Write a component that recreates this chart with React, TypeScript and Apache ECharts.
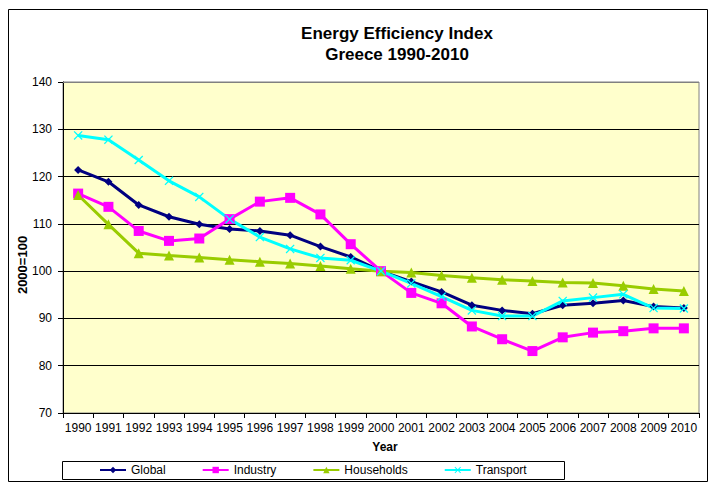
import React, { useEffect, useRef } from "react";
import * as echarts from "echarts";

const years = ["1990","1991","1992","1993","1994","1995","1996","1997","1998","1999","2000","2001","2002","2003","2004","2005","2006","2007","2008","2009","2010"];
const globalIdx = [121.4,118.9,114.0,111.5,109.9,108.9,108.5,107.6,105.2,103.0,100.0,97.8,95.6,92.8,91.7,91.0,92.8,93.2,93.8,92.5,92.2];
const industry = [116.4,113.6,108.5,106.4,106.9,111.0,114.7,115.5,112.0,105.7,100.0,95.4,93.2,88.3,85.6,83.1,86.0,87.0,87.3,87.9,87.9];
const households = [116.1,109.9,103.8,103.3,102.9,102.4,102.0,101.6,101.1,100.5,100.0,99.7,99.1,98.6,98.2,97.9,97.6,97.5,96.9,96.2,95.8];
const transport = [128.7,127.8,123.5,119.1,115.7,111.0,107.2,104.7,102.8,102.3,100.0,97.4,94.6,91.7,90.5,90.5,93.7,94.4,95.1,92.2,92.1];

const FONT = "Liberation Sans, Arial, sans-serif";
const X_SYMBOL = "path://M0,1L1,0L5,4L9,0L10,1L6,5L10,9L9,10L5,6L1,10L0,9L4,5Z";

export default function App() {
  const ref = useRef<HTMLDivElement>(null);
  useEffect(() => {
    document.body.style.margin = "0";
    const chart = echarts.init(ref.current!, null, { renderer: "svg" });
    const mk = (name: string, data: number[], color: string, symbol: string, size: number) => ({
      name,
      type: "line",
      data,
      symbol,
      symbolSize: size,
      showSymbol: true,
      lineStyle: { color, width: 3 },
      itemStyle: { color },
      emphasis: { disabled: true },
    });
    chart.setOption({
      animation: false,
      backgroundColor: "#ffffff",
      textStyle: { fontFamily: FONT },
      title: {
        text: "Energy Efficiency Index\nGreece 1990-2010",
        left: 392,
        textAlign: "center",
        top: 18,
        textStyle: { fontFamily: FONT, fontSize: 17, fontWeight: "bold", color: "#000", lineHeight: 21 },
      },
      grid: {
        left: 63,
        top: 82,
        right: 18,
        bottom: 73,
        show: true,
        backgroundColor: "#FFFFCC",
        borderColor: "#808080",
        borderWidth: 1,
      },
      legend: {
        left: 94,
        top: 459,
        itemWidth: 26,
        itemHeight: 8,
        itemGap: 36,
        textStyle: { fontFamily: FONT, fontSize: 12, color: "#000" },
        data: ["Global", "Industry", "Households", "Transport"],
      },
      xAxis: {
        type: "category",
        data: years,
        boundaryGap: true,
        name: "Year",
        nameLocation: "middle",
        nameGap: 28,
        nameTextStyle: { fontFamily: FONT, fontSize: 12, fontWeight: "bold", color: "#000", padding: [0, 0, 0, 8] },
        axisLine: { lineStyle: { color: "#000", width: 1 } },
        axisTick: { show: true, inside: false, length: 5, alignWithLabel: false, lineStyle: { color: "#000" } },
        axisLabel: { fontFamily: FONT, fontSize: 12, color: "#000", margin: 9, interval: 0 },
        splitLine: { show: false },
      },
      yAxis: {
        type: "value",
        min: 70,
        max: 140,
        interval: 10,
        axisLine: { show: true, lineStyle: { color: "#000", width: 1 } },
        axisTick: { show: true, inside: false, length: 5, lineStyle: { color: "#000" } },
        axisLabel: { fontFamily: FONT, fontSize: 12, color: "#000", margin: 11 },
        splitLine: { show: true, lineStyle: { color: "#000", width: 1 } },
      },
      graphic: [
        {
          type: "rect",
          shape: { x: 8.5, y: 9.5, width: 699, height: 472 },
          style: { fill: "none", stroke: "#000", lineWidth: 1 },
          silent: true,
          z: 100,
        },
        {
          type: "rect",
          shape: { x: 62.5, y: 461.5, width: 502, height: 18 },
          style: { fill: "none", stroke: "#000", lineWidth: 1 },
          silent: true,
          z: 100,
        },
        {
          type: "line",
          shape: { x1: 63, y1: 82.5, x2: 699, y2: 82.5 },
          style: { stroke: "#808080", lineWidth: 1 },
          silent: true,
          z: 100,
        },
        {
          type: "text",
          x: 22,
          y: 265,
          rotation: Math.PI / 2,
          style: {
            text: "2000=100",
            fontFamily: FONT,
            fontSize: 13,
            fontWeight: "bold",
            fill: "#000",
            align: "center",
            verticalAlign: "middle",
          },
          silent: true,
        },
      ],
      series: [
        mk("Global", globalIdx, "#000080", "diamond", 8),
        mk("Industry", industry, "#FF00FF", "rect", 10),
        mk("Households", households, "#99CC00", "triangle", 10),
        mk("Transport", transport, "#00FFFF", X_SYMBOL, 9),
      ],
    });
    return () => chart.dispose();
  }, []);
  return <div ref={ref} style={{ position: "absolute", left: 0, top: 0, width: 717, height: 486 }} />;
}
